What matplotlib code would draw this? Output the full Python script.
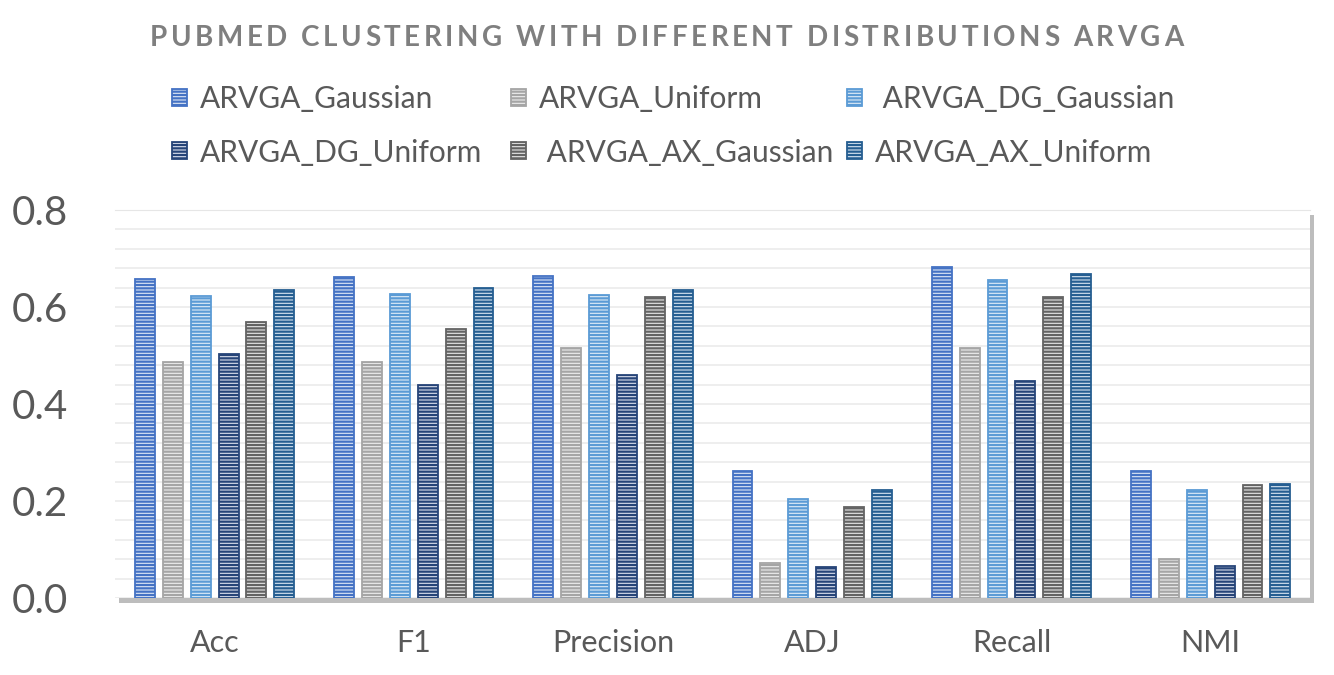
import numpy as np
import matplotlib.pyplot as plt
from matplotlib.patches import Rectangle

categories = ['Acc', 'F1', 'Precision', 'ADJ', 'Recall', 'NMI']
series = ['ARVGA_Gaussian', 'ARVGA_Uniform', ' ARVGA_DG_Gaussian',
          'ARVGA_DG_Uniform', ' ARVGA_AX_Gaussian', 'ARVGA_AX_Uniform']
values = {
    'ARVGA_Gaussian':     [0.658, 0.662, 0.663, 0.262, 0.682, 0.262],
    'ARVGA_Uniform':      [0.487, 0.487, 0.516, 0.073, 0.515, 0.080],
    ' ARVGA_DG_Gaussian': [0.623, 0.627, 0.625, 0.205, 0.655, 0.222],
    'ARVGA_DG_Uniform':   [0.503, 0.440, 0.460, 0.065, 0.447, 0.066],
    ' ARVGA_AX_Gaussian': [0.569, 0.555, 0.620, 0.187, 0.621, 0.232],
    'ARVGA_AX_Uniform':   [0.635, 0.640, 0.635, 0.222, 0.668, 0.235],
}
colors = ['#4472C4', '#A5A5A5', '#5B9BD5', '#264478', '#636363', '#255E91']
fills = ['#DDE6F5', '#EDEDED', '#DEEBF7', '#D9DFEC', '#E6E6E6', '#D6E3F0']
title = 'PUBMED CLUSTERING WITH DIFFERENT DISTRIBUTIONS ARVGA'

plt.rcParams['font.family'] = ['Lato', 'DejaVu Sans']
plt.rcParams['hatch.linewidth'] = 1.6

W, H = 1334, 675
fig = plt.figure(figsize=(W / 100, H / 100), dpi=100)
ax = fig.add_axes([0.0862, 0.114, 0.896, 0.575])

# shadow of the plot area
fig.patches.append(Rectangle((0.0862 + 0.003, 0.114 - 0.007), 0.896, 0.575,
                             transform=fig.transFigure, facecolor='#BDBDBD',
                             edgecolor='none', zorder=-1))
ax.set_facecolor('white')

x = np.arange(len(categories))
step = 0.14
width = 0.10
handles = []
for i, (name, c, f) in enumerate(zip(series, colors, fills)):
    pos = x + (i - 2.5) * step
    b = ax.bar(pos, values[name], width, facecolor=f, edgecolor=c,
               hatch='-----', linewidth=1.3, label=name, zorder=3)
    handles.append(b)

ax.set_xlim(-0.5, len(categories) - 0.5)
ax.set_ylim(0, 0.8)
ax.set_yticks(np.arange(0, 0.81, 0.2))
ax.set_yticks(np.arange(0, 0.81, 0.04), minor=True)
ax.yaxis.set_major_formatter(plt.FormatStrFormatter('%.1f'))
ax.grid(axis='y', which='both', color='#EBEBEB', linewidth=1.2, zorder=0)
ax.set_xticks(x)
ax.set_xticklabels(categories)
ax.tick_params(axis='x', length=0, labelsize=22, labelcolor='#595959', pad=22)
ax.tick_params(axis='y', which='both', length=0, labelsize=29,
               labelcolor='#595959', pad=74)
for t in ax.get_yticklabels():
    t.set_horizontalalignment('left')
for s in ax.spines.values():
    s.set_visible(False)
ax.spines['top'].set_visible(True)
ax.spines['top'].set_color('#E6E6E6')

# letter-spaced title
r = fig.canvas.get_renderer()
tkw = dict(fontsize=20, fontweight='bold', color='#7F7F7F', va='center')
widths = []
for ch in title:
    if ch == ' ':
        widths.append(7.0)
        continue
    t = fig.text(0, 0, ch, **tkw)
    widths.append(t.get_window_extent(r).width)
    t.remove()
left_px, right_px = 150, 1183
gap = (right_px - left_px - sum(widths)) / (len(title) - 1)
xp = left_px
for ch, w in zip(title, widths):
    if ch != ' ':
        fig.text(xp / W, 0.944, ch, ha='left', **tkw)
    xp += w + gap

# legend: three columns of two rows
col_left = [172, 511, 847]
for k, xl in enumerate(col_left):
    idx = [k, k + 3]
    leg = fig.legend([handles[j] for j in idx], [series[j] for j in idx],
                     loc='center left', bbox_to_anchor=(xl / W, 0.8135),
                     frameon=False, fontsize=21.5, labelcolor='#595959',
                     handlelength=0.5, handleheight=0.5, handletextpad=0.45,
                     labelspacing=0.85, borderpad=0, borderaxespad=0)

fig.savefig('out.png', dpi=100)
